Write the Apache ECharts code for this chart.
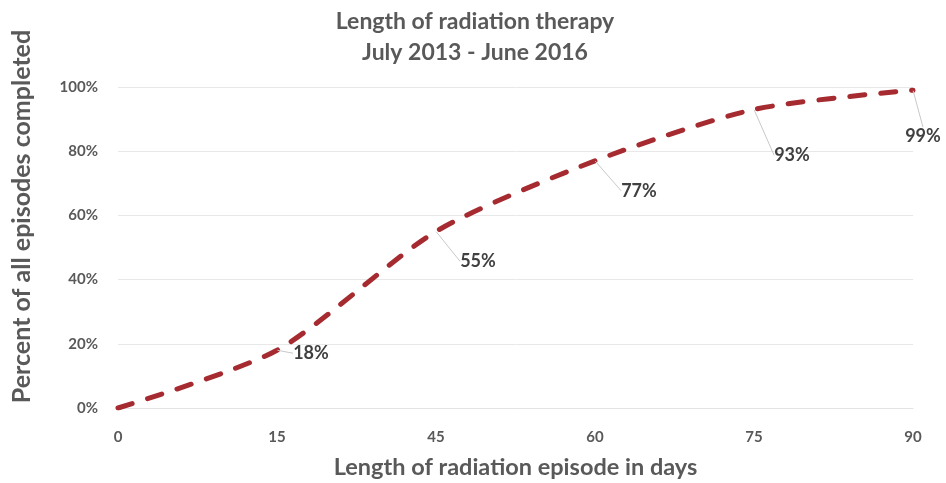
<!DOCTYPE html>
<html><head><meta charset="utf-8">
<script src="https://cdn.jsdelivr.net/npm/echarts@6/dist/echarts.min.js"></script>
<style>html,body{margin:0;padding:0;background:#fff}#c{width:946px;height:483px}</style>
</head><body><div id="c"></div>
<script>
const categories = ['0', '15', '45', '60', '75', '90'];
const percentCompleted = [0, 18, 55, 77, 93, 99];
const yTicks = [0, 20, 40, 60, 80, 100];

const labelOffsets = [null, [34, 3], [42, 30], [44, 30], [38, 46], [10, 46]];
const F = 'Lato, "Open Sans", sans-serif';
const chart = echarts.init(document.getElementById('c'));
chart.setOption({
  animation: false,
  title: {
    text: 'Length of radiation therapy\nJuly 2013 - June 2016',
    left: 470, top: 1, textAlign: 'center',
    textStyle: { fontFamily: F, fontSize: 23, fontWeight: 'bold', color: '#595959', lineHeight: 31 }
  },
  grid: { left: 118, right: 33, top: 87, bottom: 75, outerBoundsMode: 'none', containLabel: false },
  xAxis: {
    type: 'category', data: categories, boundaryGap: false,
    name: 'Length of radiation episode in days', nameLocation: 'middle', nameGap: 47,
    nameTextStyle: { fontFamily: F, fontSize: 23.5, fontWeight: 'bold', color: '#595959' },
    axisLine: { show: true, lineStyle: { color: '#e3e3e3', width: 1 } },
    axisTick: { show: false },
    axisLabel: { fontFamily: F, fontSize: 15, fontWeight: 'bold', color: '#595959', margin: 22 }
  },
  yAxis: {
    type: 'value', min: 0, max: 100, interval: 20,
    name: 'Percent of all episodes completed', nameLocation: 'middle', nameGap: 84,
    nameTextStyle: { fontFamily: F, fontSize: 25, fontWeight: 'bold', color: '#595959', padding: [0, 0, 0, 62] },
    axisLine: { show: false }, axisTick: { show: false },
    axisLabel: { fontFamily: F, fontSize: 15, fontWeight: 'bold', color: '#595959', margin: 20,
      formatter: v => yTicks.includes(v) ? v + '%' : '' },
    splitLine: { lineStyle: { color: '#e8e8e8', width: 1 } }
  },
  series: [{
    type: 'line', data: percentCompleted, smooth: 0.25, showSymbol: true, symbol: 'circle', symbolSize: 1,
    itemStyle: { color: 'rgba(0,0,0,0)', borderWidth: 0 },
    lineStyle: { color: '#A62B30', width: 5, type: [15, 16], cap: 'round' },
    label: {
      show: true, position: 'inside', fontFamily: F, fontSize: 18, fontWeight: 'bold', color: '#404040',
      formatter: p => p.dataIndex === 0 ? '' : p.value + '%'
    },
    labelLine: { show: true, lineStyle: { color: '#c8c8c8', width: 1 } },
    labelLayout: p => {
      const o = labelOffsets[p.dataIndex];
      if (!o) return {};
      return { dx: o[0], dy: o[1] };
    }
  }]
});
</script></body></html>
